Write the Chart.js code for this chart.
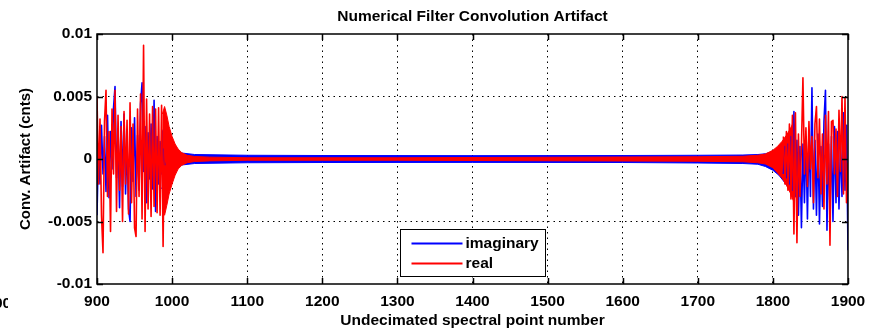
<!DOCTYPE html>
<html>
<head>
<meta charset="utf-8">
<title>Numerical Filter Convolution Artifact</title>
<script src="https://cdn.jsdelivr.net/npm/chart.js"></script>
<style>
  html, body { margin: 0; padding: 0; background: #fff; }
  #chart { width: 878px; height: 328px; }
</style>
</head>
<body>
<div id="chart"><canvas id="myChart" width="878" height="328"></canvas></div>
<script>
// Axis ticks
const xTicks = [900, 1000, 1100, 1200, 1300, 1400, 1500, 1600, 1700, 1800, 1900];
const yTicks = [-0.01, -0.005, 0, 0.005, 0.01];
const yTickLabels = ['-0.01', '-0.005', '0', '0.005', '0.01'];
const seriesNames = ['imaginary', 'real'];

// Noisy start of the record, every 2nd spectral point from 900
const leftStart = 900;
const leftImag = [
  -0.0045, 0.0012, -0.0020, 0.0027, -0.0012, 0.0018, -0.0026, 0.0035, -0.0031, 0.0022,
  -0.0008, 0.0041, 0.0058, -0.0015, 0.0020, -0.0039, 0.0030, -0.0022, 0.0036, -0.0028,
  0.0012, -0.0040, -0.0050, 0.0025, -0.0018, 0.0033, -0.0030, 0.0019, -0.0025, 0.0044,
  0.0061, -0.0010, 0.0026, -0.0035, 0.0021, -0.0016, 0.0028, -0.0024, 0.0047, -0.0042,
  0.0018, -0.0020, 0.0014, -0.0012, 0.0008, -0.0005
];
const leftReal = [
  0.0050, -0.0020, 0.0032, -0.0045, -0.0075, 0.0030, 0.0055, -0.0030, 0.0022, -0.0058,
  0.0040, -0.0012, 0.0055, -0.0042, 0.0035, -0.0025, 0.0026, -0.0050, 0.0038, -0.0020,
  0.0031, -0.0044, 0.0045, -0.0035, 0.0028, -0.0055, -0.0062, 0.0040, -0.0030, 0.0052,
  -0.0048, 0.0091, -0.0058, 0.0048, -0.0040, 0.0036, -0.0046, 0.0042, -0.0038, 0.0040,
  -0.0043, 0.0041, -0.0045, 0.0043, -0.0070, 0.0038
];

// Noisy end of the record, every 2nd spectral point from 1814
const rightStart = 1814;
const rightImag = [
  -0.0012, 0.0010, -0.0015, 0.0012, -0.0020, 0.0018, -0.0025, 0.0038, -0.0030, 0.0015,
  -0.0045, 0.0010, -0.0055, 0.0012, -0.0035, 0.0018, -0.0048, 0.0022, -0.0030, 0.0057,
  -0.0040, 0.0015, -0.0045, 0.0020, -0.0052, 0.0010, -0.0038, 0.0030, 0.0055, -0.0057,
  0.0012, -0.0042, 0.0018, -0.0050, 0.0026, -0.0035, 0.0022, -0.0040, 0.0015, -0.0030,
  0.0037, -0.0025, 0.0027, -0.0073
];
const rightReal = [
  0.0018, -0.0020, 0.0022, -0.0025, 0.0028, -0.0032, 0.0035, -0.0060, 0.0037, -0.0067,
  0.0020, -0.0030, 0.0010, 0.0065, -0.0012, 0.0025, -0.0022, 0.0030, -0.0008, 0.0018,
  -0.0035, 0.0028, 0.0042, -0.0015, 0.0032, -0.0028, 0.0020, -0.0040, 0.0035, -0.0020,
  0.0038, -0.0069, 0.0030, 0.0031, -0.0012, 0.0024, -0.0030, 0.0039, -0.0010, 0.0050,
  -0.0028, 0.0049, -0.0035, -0.0003
];

// Envelope of the fast ringing in the quiet middle section
const imagBandX = [986, 990, 995, 1000, 1010, 1030, 1100, 1200, 1400, 1600, 1700, 1760, 1780, 1790, 1800, 1808, 1816, 1824];
const imagUpper = [0.0024, 0.0018, 0.0012, 0.0008, 0.0005, 0.00036, 0.0003, 0.00028, 0.00027, 0.00028, 0.0003, 0.00032, 0.00036, 0.00042, 0.0006, 0.0009, 0.0014, 0.0020];
const imagLower = [-0.0024, -0.0018, -0.0012, -0.0008, -0.0005, -0.00036, -0.0003, -0.00028, -0.00027, -0.00028, -0.00032, -0.00036, -0.00042, -0.0006, -0.0009, -0.0013, -0.0019, -0.0026];

const realBandX = [987, 990, 993, 996, 1000, 1004, 1008, 1013, 1020, 1030, 1050, 1100, 1300, 1500, 1700, 1760, 1780, 1790, 1800, 1806, 1812, 1818, 1823, 1827, 1830];
const realUpper = [0.0036, 0.0042, 0.0035, 0.0026, 0.0018, 0.0012, 0.0008, 0.0005, 0.0003, 0.0002, 0.00015, 0.0001, 0.0001, 0.00014, 0.00018, 0.00022, 0.0003, 0.0004, 0.0007, 0.0010, 0.0014, 0.0019, 0.0024, 0.0029, 0.0026];
const realLower = [-0.0040, -0.0045, -0.0037, -0.0028, -0.0020, -0.0013, -0.0008, -0.0005, -0.0003, -0.0002, -0.00015, -0.0001, -0.0001, -0.00014, -0.00018, -0.00022, -0.0003, -0.0004, -0.0007, -0.0011, -0.0015, -0.0021, -0.0027, -0.0033, -0.0030];

const BLUE = '#0000ff';
const RED = '#ff0000';
const FONT = '"Liberation Sans", Arial, Helvetica, sans-serif';
const TEXT_FONT = { family: FONT, size: 15.5, weight: 'bold' };

function samples(start, values) {
    return values.map((v, i) => ({ x: start + 2 * i, y: v }));
}
function pairs(xs, ys) {
    return xs.map((x, i) => ({ x: x, y: ys[i] }));
}
// left and right stretches in one line, broken in the middle
function trace(left, right) {
    return samples(leftStart, left).concat([{ x: 1400, y: null }], samples(rightStart, right));
}

// Box, inward tick marks, title over the axes and the south legend, MATLAB style
const axesBox = {
    id: 'axesBox',
    afterDatasetsDraw(chart) {
        const { ctx, chartArea: a, scales } = chart;
        ctx.save();
        ctx.strokeStyle = '#000';
        ctx.lineWidth = 1.5;
        ctx.strokeRect(a.left, a.top, a.right - a.left, a.bottom - a.top);
        ctx.beginPath();
        xTicks.forEach(v => {
            const px = Math.round(scales.x.getPixelForValue(v)) + 0.5;
            ctx.moveTo(px, a.bottom); ctx.lineTo(px, a.bottom - 6);
            ctx.moveTo(px, a.top); ctx.lineTo(px, a.top + 6);
        });
        yTicks.forEach(v => {
            const py = Math.round(scales.y.getPixelForValue(v)) + 0.5;
            ctx.moveTo(a.left, py); ctx.lineTo(a.left + 6, py);
            ctx.moveTo(a.right, py); ctx.lineTo(a.right - 6, py);
        });
        ctx.stroke();
        ctx.restore();
    },
    afterDraw(chart) {
        const { ctx, chartArea: a } = chart;
        const cx = (a.left + a.right) / 2;
        ctx.save();
        ctx.fillStyle = '#000';
        ctx.textAlign = 'center';
        ctx.textBaseline = 'middle';
        ctx.font = 'bold 15.5px ' + FONT;
        ctx.fillText('Numerical Filter Convolution Artifact', cx, a.top - 17);

        const w = 145, h = 47;
        const lx = Math.round(cx - w / 2) + 0.5;
        const ly = Math.round(a.bottom - 8 - h) + 0.5;
        ctx.fillStyle = '#fff';
        ctx.fillRect(lx, ly, w, h);
        ctx.strokeStyle = '#000';
        ctx.lineWidth = 1;
        ctx.strokeRect(lx, ly, w, h);
        ctx.textAlign = 'left';
        ctx.fillStyle = '#000';
        [BLUE, RED].forEach((c, i) => {
            const y = ly + 14 + i * 20;
            ctx.strokeStyle = c;
            ctx.lineWidth = 2;
            ctx.beginPath();
            ctx.moveTo(lx + 11, y); ctx.lineTo(lx + 62, y);
            ctx.stroke();
            ctx.fillText(seriesNames[i], lx + 65, y);
        });
        // clipped label of the neighbouring panel
        ctx.beginPath();
        ctx.rect(0, 290, 8, 25);
        ctx.clip();
        ctx.fillText('00', -6, 304);
        ctx.restore();
    }
};

const gridColor = edges => ctx => (edges.includes(ctx.tick && ctx.tick.value) ? 'rgba(0,0,0,0)' : '#000');

new Chart(document.getElementById('myChart'), {
    type: 'line',
    data: {
        datasets: [
            { label: 'imag+', data: pairs(imagBandX, imagUpper), borderColor: BLUE, backgroundColor: BLUE, borderWidth: 1, fill: '+1', order: 5 },
            { label: 'imag-', data: pairs(imagBandX, imagLower), borderColor: BLUE, borderWidth: 1, fill: false, order: 4 },
            { label: 'real+', data: pairs(realBandX, realUpper), borderColor: RED, backgroundColor: RED, borderWidth: 1, fill: '+1', order: 3 },
            { label: 'real-', data: pairs(realBandX, realLower), borderColor: RED, borderWidth: 1, fill: false, order: 2 },
            { label: seriesNames[0], data: trace(leftImag, rightImag), borderColor: BLUE, borderWidth: 1.6, fill: false, order: 1 },
            { label: seriesNames[1], data: trace(leftReal, rightReal), borderColor: RED, borderWidth: 1.6, fill: false, order: 0 }
        ]
    },
    options: {
        responsive: false,
        animation: false,
        devicePixelRatio: 1,
        spanGaps: false,
        layout: { padding: { left: 0, right: 30, top: 34, bottom: 0 } },
        elements: {
            point: { radius: 0 },
            line: { tension: 0, borderJoinStyle: 'round' }
        },
        plugins: {
            legend: { display: false },
            tooltip: { enabled: false },
            title: { display: false }
        },
        scales: {
            x: {
                type: 'linear',
                min: 900,
                max: 1900,
                afterBuildTicks: s => { s.ticks = xTicks.map(v => ({ value: v })); },
                afterFit: s => { s.height = 44; },
                ticks: {
                    color: '#000',
                    font: TEXT_FONT,
                    padding: 8,
                    maxRotation: 0,
                    callback: v => String(v)
                },
                grid: { color: gridColor([900, 1900]), lineWidth: 1, drawTicks: false },
                border: { display: false, dash: [1.5, 4] },
                title: {
                    display: true,
                    text: 'Undecimated spectral point number',
                    color: '#000',
                    font: TEXT_FONT,
                    padding: { top: 0, bottom: -2 }
                }
            },
            y: {
                min: -0.01,
                max: 0.01,
                afterBuildTicks: s => { s.ticks = yTicks.map(v => ({ value: v })); },
                afterFit: s => { s.width = 97; },
                ticks: {
                    color: '#000',
                    font: TEXT_FONT,
                    padding: 5,
                    callback: v => yTickLabels[yTicks.indexOf(v)]
                },
                grid: { color: gridColor([-0.01, 0, 0.01]), lineWidth: 1, drawTicks: false },
                border: { display: false, dash: [1.5, 4] },
                title: {
                    display: true,
                    text: 'Conv. Artifact (cnts)',
                    color: '#000',
                    font: { family: FONT, size: 15, weight: 'bold' },
                    padding: { top: 17, bottom: 0 }
                }
            }
        }
    },
    plugins: [axesBox]
});
</script>
</body>
</html>
